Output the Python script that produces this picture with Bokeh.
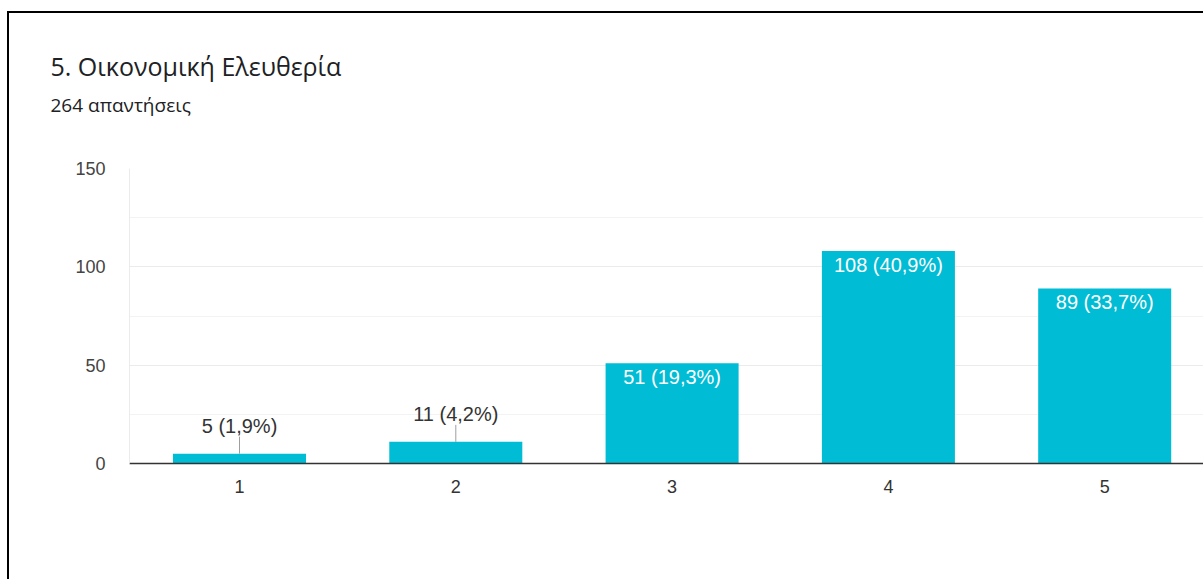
from bokeh.plotting import figure
from bokeh.layouts import column
from bokeh.models import Range1d, FixedTicker, SingleIntervalTicker, Title, ColumnDataSource
from bokeh.core.properties import value
from bokeh.embed import file_html
from bokeh.resources import INLINE

# ---- data ----
categories = ["1", "2", "3", "4", "5"]
counts = [5, 11, 51, 108, 89]
bar_labels = ["5 (1,9%)", "11 (4,2%)", "51 (19,3%)", "108 (40,9%)", "89 (33,7%)"]
title_text = "5. Οικονομική Ελευθερία"
subtitle_text = "264 απαντήσεις"

# ---- layout (page origin appears to be 0,0) ----
host_x, host_y, bw = 7, 11, 2
cx, cy = host_x + bw, host_y + bw           # canvas origin on page
W, H = 1203 - cx, 579 - cy
frame_left_pg, frame_top_pg, frame_bot_pg = 129, 168, 463
left = frame_left_pg - cx
top = frame_top_pg - cy
bottom = H - (frame_bot_pg - cy)
frame_w = W - left
frame_h = H - top - bottom
cat_px = 216.3
x_start = 1 - (239 - frame_left_pg) / cat_px
x_end = x_start + frame_w / cat_px
y_max = 150
px_per_unit = frame_h / y_max

xs = list(range(1, len(categories) + 1))

p = figure(width=W, height=H, output_backend="svg", toolbar_location=None,
           x_range=Range1d(x_start, x_end), y_range=Range1d(0, y_max),
           min_border_left=left, min_border_top=top, min_border_bottom=bottom,
           min_border_right=0, title=None)
p.outline_line_color = None
p.background_fill_color = "white"
p.border_fill_color = "white"

# bars
p.vbar(x=xs, top=counts, width=0.615, bottom=0, color="#00bcd4", line_color=None)

# labels
inside = [c > 30 for c in counts]
src_in = ColumnDataSource(dict(x=[x for x, f in zip(xs, inside) if f],
                               y=[c for c, f in zip(counts, inside) if f],
                               t=[t for t, f in zip(bar_labels, inside) if f]))
src_out = ColumnDataSource(dict(x=[x for x, f in zip(xs, inside) if not f],
                                y=[c for c, f in zip(counts, inside) if not f],
                                y1=[c + 17 / px_per_unit for c, f in zip(counts, inside) if not f],
                                t=[t for t, f in zip(bar_labels, inside) if not f]))
p.text(x="x", y="y", text="t", source=src_in, text_align="center", text_baseline="middle",
       y_offset=14, text_color="white", text_font=value("Liberation Sans"),
       text_font_size="20px")
p.segment(x0="x", y0="y", x1="x", y1="y1", source=src_out, line_color="#9e9e9e", line_width=1)
p.text(x="x", y="y", text="t", source=src_out, text_align="center", text_baseline="middle",
       y_offset=-28, text_color="#333333", text_font=value("Liberation Sans"),
       text_font_size="20px")

# axes
p.xaxis.ticker = FixedTicker(ticks=xs)
p.xaxis.major_label_overrides = {x: c for x, c in zip(xs, categories)}
p.xaxis.axis_line_color = "#333333"
p.xaxis.axis_line_width = 1.5
p.xaxis.major_tick_line_color = None
p.xaxis.minor_tick_line_color = None
p.xaxis.major_label_standoff = 10
p.xaxis.major_label_text_font = "Liberation Sans"
p.xaxis.major_label_text_font_size = "18px"
p.xaxis.major_label_text_color = "#333333"

p.yaxis.ticker = SingleIntervalTicker(interval=50, num_minor_ticks=2)
p.yaxis.axis_line_color = "#ebebeb"
p.yaxis.major_tick_line_color = None
p.yaxis.minor_tick_line_color = None
p.yaxis.major_tick_out = 0
p.yaxis.major_label_standoff = 20
p.yaxis.major_label_text_font = "Liberation Sans"
p.yaxis.major_label_text_font_size = "18px"
p.yaxis.major_label_text_color = "#444444"

p.xgrid.grid_line_color = None
p.ygrid.grid_line_color = "#ebebeb"
p.ygrid.minor_grid_line_color = "#f3f3f3"

# title & subtitle (later-added sits higher); first a thin spacer next to the frame
p.add_layout(Title(text=" ", text_font_size="1px", standoff=48), "above")
p.add_layout(Title(text=subtitle_text, text_font="Open Sans", text_font_size="19px",
                   text_font_style="normal", text_color="#202124", align="left",
                   offset=50 - frame_left_pg, standoff=0), "above")
p.add_layout(Title(text=title_text, text_font="Open Sans", text_font_size="25px",
                   text_font_style="normal", text_color="#202124", align="left",
                   offset=50 - frame_left_pg, standoff=13), "above")

page = column(p, styles={"border-top": f"{bw}px solid #000", "border-left": f"{bw}px solid #000",
                         "margin-top": f"{host_y}px", "margin-left": f"{host_x}px"})

open("out.html", "w").write(file_html(page, INLINE))
